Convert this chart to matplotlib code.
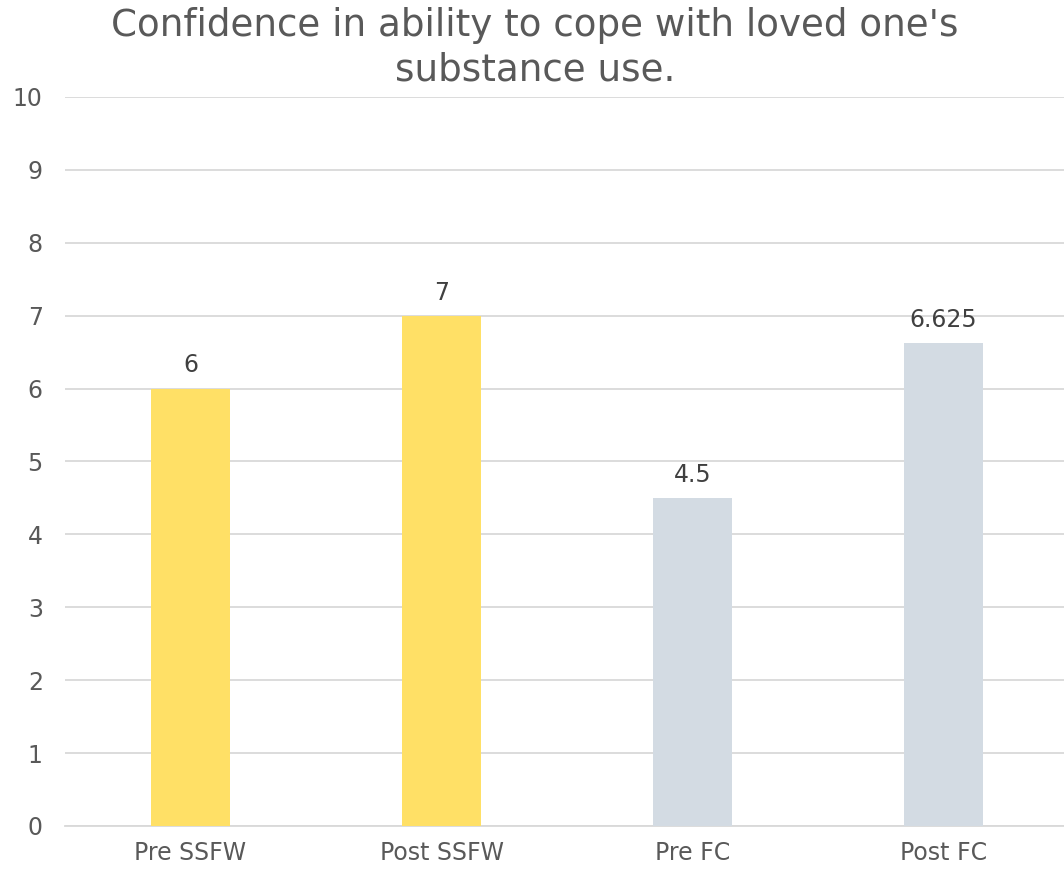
import matplotlib
matplotlib.use('Agg')
import matplotlib.pyplot as plt

# 数据
categories = ['Pre SSFW', 'Post SSFW', 'Pre FC', 'Post FC']
values = [6, 7, 4.5, 6.625]
value_labels = ['6', '7', '4.5', '6.625']
bar_colors = ['#FFE066', '#FFE066', '#D3DBE3', '#D3DBE3']
y_ticks = list(range(0, 11))

plt.rcParams['font.family'] = ['DejaVu Sans']

fig = plt.figure(figsize=(10.64, 8.72), dpi=100)
ax = fig.add_axes([0.0611, 0.0528, 0.9436, 0.836])

x = range(len(categories))
bars = ax.bar(x, values, width=0.315, color=bar_colors, zorder=3)

# 数据标签
for b, lab in zip(bars, value_labels):
    ax.annotate(lab, (b.get_x() + b.get_width() / 2, b.get_height()),
                xytext=(0, 8), textcoords='offset points',
                ha='center', va='bottom', fontsize=17, color='#404040')

ax.set_xlim(-0.5, 3.5)
ax.set_ylim(0, 10)
ax.set_yticks(y_ticks)
ax.set_xticks(list(x))
ax.set_xticklabels(categories)
ax.tick_params(axis='both', length=0, labelsize=17, labelcolor='#595959')
ax.tick_params(axis='x', pad=11)
ax.tick_params(axis='y', pad=16)
ax.grid(axis='y', color='#D9D9D9', linewidth=1.3, zorder=0)
for s in ['top', 'right', 'left']:
    ax.spines[s].set_visible(False)
ax.spines['bottom'].set_color('#D9D9D9')
ax.spines['bottom'].set_linewidth(1.3)

fig.text(0.503, 0.9915, "Confidence in ability to cope with loved one's\nsubstance use.",
         ha='center', va='top', fontsize=26.8, color='#595959', linespacing=1.23)

plt.savefig('out.png', dpi=100)
